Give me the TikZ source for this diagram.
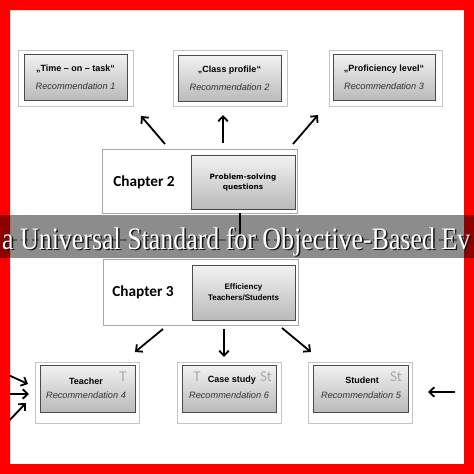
\documentclass[tikz,border=0pt]{standalone}
\usepackage{fontspec}
\usepackage{graphicx}
\usetikzlibrary{arrows.meta,shadows}
\newfontfamily\arialf{Liberation Sans}
\newfontfamily\calibf{Carlito}
\newfontfamily\seriff{Liberation Serif}
\newfontfamily\dejavuf{DejaVu Sans}
\definecolor{tgray}{HTML}{ABABAB}
\definecolor{framegray}{HTML}{C4C4C4}
\definecolor{chapgray}{HTML}{A8A8A8}
\definecolor{boxedge}{HTML}{4A4A4A}
\definecolor{boxtop}{HTML}{F2F2F2}
\definecolor{boxbot}{HTML}{BABABA}
\definecolor{recgray}{HTML}{333333}
\tikzset{
  outerframe/.style={rectangle, draw=framegray, fill=white, line width=0.8pt, inner sep=0pt},
  chapframe/.style={rectangle, draw=chapgray, fill=white, line width=0.8pt, inner sep=0pt},
  gbox/.style={rectangle, draw=boxedge, line width=0.9pt, top color=boxtop, bottom color=boxbot, inner sep=0pt,
    drop shadow={shadow xshift=0.8pt, shadow yshift=-0.8pt, opacity=0.35}},
  titletext/.style={inner sep=0pt, font=\arialf\bfseries\fontsize{9}{10}\selectfont},
  rectext/.style={inner sep=0pt, text=recgray, font=\arialf\itshape\fontsize{9.2}{10}\selectfont},
  chaptext/.style={inner sep=0pt, font=\calibf\bfseries\fontsize{15.3}{16}\selectfont},
  tstext/.style={inner sep=0pt, text=tgray, font=\calibf\fontsize{15}{16}\selectfont},
  arr/.style={line width=1.8pt, -{Straight Barb[length=5pt,width=9.5pt]}},
}
\begin{document}
\begin{tikzpicture}[x=1pt,y=-1pt]
\useasboundingbox (0,0) rectangle (474,474);
\fill[white] (0,0) rectangle (474,474);

% top row
\node[outerframe, minimum width=115pt, minimum height=56pt] (f1) at (75.5,78) {};
\node[gbox, minimum width=103pt, minimum height=46pt] (b1) at (75.5,77) {};
\node[titletext] (t1) at (75.5,69) {„Time – on – task“};
\node[rectext] (r1) at (75.5,86) {Recommendation 1};

\node[outerframe, minimum width=114pt, minimum height=56pt] (f2) at (230,78) {};
\node[gbox, minimum width=103pt, minimum height=46pt] (b2) at (229.5,78) {};
\node[titletext] (t2) at (229.5,70) {„Class profile“};
\node[rectext] (r2) at (229.5,87) {Recommendation 2};

\node[outerframe, minimum width=113pt, minimum height=56pt] (f3) at (385.5,78) {};
\node[gbox, minimum width=102pt, minimum height=46pt] (b3) at (384,77) {};
\node[titletext] (t3) at (384,69) {„Proficiency level“};
\node[rectext] (r3) at (384,86) {Recommendation 3};

% chapter 2
\node[chapframe, minimum width=195pt, minimum height=64pt] (c2) at (199.5,181) {};
\node[gbox, minimum width=104pt, minimum height=54pt] (p2) at (243,182) {};
\node[chaptext] (c2t) at (144,182) {Chapter 2};
\node[inner sep=0pt, align=center, font=\dejavuf\bfseries\fontsize{7.3}{10.5}\selectfont] (p2t) at (243,182.5) {Problem-solving\\questions};

% chapter 3
\node[chapframe, minimum width=195pt, minimum height=66pt] (c3) at (200.5,292) {};
\node[gbox, minimum width=103pt, minimum height=55pt] (p3) at (243.5,292.5) {};
\node[chaptext] (c3t) at (143,292) {Chapter 3};
\node[inner sep=0pt, align=center, font=\arialf\bfseries\fontsize{8}{10.5}\selectfont] (p3t) at (243.5,292) {Efficiency\\Teachers/Students};

% bottom row
\node[outerframe, minimum width=104pt, minimum height=61pt] (f4) at (87,392.5) {};
\node[gbox, minimum width=95pt, minimum height=47pt] (b4) at (87.5,388.5) {};
\node[titletext] (t4) at (86,381) {Teacher};
\node[rectext] (r4) at (86,395) {Recommendation 4};
\node[tstext] (t4T) at (123,377) {T};

\node[outerframe, minimum width=104pt, minimum height=61pt] (f6) at (229,392.5) {};
\node[gbox, minimum width=94pt, minimum height=47pt] (b6) at (229,388.5) {};
\node[titletext] (t6) at (232,380) {Case study};
\node[rectext] (r6) at (229,395) {Recommendation 6};
\node[tstext] (t6T) at (197,377) {T};
\node[tstext] (t6S) at (266,377) {St};

\node[outerframe, minimum width=104pt, minimum height=61pt] (f5) at (360,392.5) {};
\node[gbox, minimum width=95pt, minimum height=47pt] (b5) at (360.5,388.5) {};
\node[titletext] (t5) at (362,380) {Student};
\node[rectext] (r5) at (361,395) {Recommendation 5};
\node[tstext] (t5S) at (396,377) {St};

% arrow end points
\coordinate (u1s) at (165,144); \coordinate (u1e) at (141,116);
\coordinate (u2s) at (223,143); \coordinate (u2e) at (223,115);
\coordinate (u3s) at (293,144); \coordinate (u3e) at (318,115);
\coordinate (d1s) at (163,329); \coordinate (d1e) at (135,352);
\coordinate (d2s) at (224,329); \coordinate (d2e) at (224,357);
\coordinate (d3s) at (282,328); \coordinate (d3e) at (311,352);
\coordinate (l1s) at (4,373);  \coordinate (l1e) at (28,384);
\coordinate (l2s) at (4,394);  \coordinate (l2e) at (29,394);
\coordinate (l3s) at (4,426);  \coordinate (l3e) at (26,403);
\coordinate (rs) at (455,392); \coordinate (re) at (428,392);
\coordinate (vend) at (240,235);

\draw[arr] (u1s) -- (u1e);
\draw[arr] (u2s) -- (u2e);
\draw[arr] (u3s) -- (u3e);
\draw[arr] (d1s) -- (d1e);
\draw[arr] (d2s) -- (d2e);
\draw[arr] (d3s) -- (d3e);
\draw[arr] (l1s) -- (l1e);
\draw[arr] (l2s) -- (l2e);
\draw[arr] (l3s) -- (l3e);
\draw[arr] (rs) -- (re);
\draw[line width=1.1pt, black] (c2.south -| vend) -- (vend);

% faint divider line under the band
\coordinate (dl) at (10,240); \coordinate (dr) at (464,240);
\draw[line width=1.2pt, color=black!35, dash pattern=on 7pt off 4pt] (dl) -- (dr);

% red border
\fill[red, even odd rule] (0,0) rectangle (474,474) (10,10) rectangle (464,464);

% title band
\fill[black, opacity=0.45] (0,215) rectangle (474,258);
\node[anchor=base west, inner sep=0pt, text=black, opacity=0.85] (bandshadow) at (3.5,250.5)
  {\resizebox{468pt}{22pt}{\seriff\fontsize{30}{30}\selectfont a Universal Standard for Objective-Based Ev}};
\node[anchor=base west, inner sep=0pt, text=white] (bandtext) at (2,249)
  {\resizebox{468pt}{22pt}{\seriff\fontsize{30}{30}\selectfont a Universal Standard for Objective-Based Ev}};
\end{tikzpicture}
\end{document}
